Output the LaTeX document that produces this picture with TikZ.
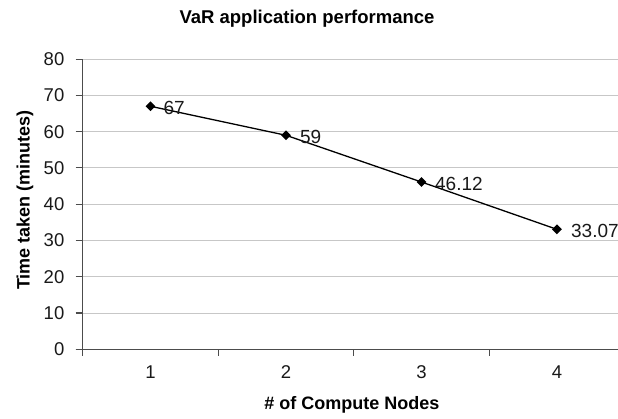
\documentclass[tikz,border=0pt]{standalone}
\usepackage{fontspec}
\setmainfont{Liberation Sans}
\usetikzlibrary{shapes.geometric}
\begin{document}
\begin{tikzpicture}[x=1pt,y=-1pt,
  grid/.style={draw=black!22,line width=1pt},
  axisline/.style={draw=black!70,line width=1.2pt},
  tickmark/.style={draw=black!70,line width=1.1pt},
  ticklab/.style={font=\fontsize{18.5}{21}\selectfont,text=black!90,inner sep=0pt},
  datalab/.style={font=\fontsize{19}{22}\selectfont,text=black!90,inner sep=0pt,anchor=west},
  marker/.style={diamond,fill=black,draw=none,inner sep=0pt,minimum width=10pt,minimum height=10pt},
  series/.style={draw=black,line width=1.3pt},
  axtitle/.style={font=\bfseries\fontsize{18}{21}\selectfont,inner sep=0pt},
]
\useasboundingbox (0,0) rectangle (618,418);
% y coordinates: v -> 349.3 - 3.6275 v
\foreach \v in {10,20,...,80}{
  \draw[grid] (82.7,{349.3-3.6275*\v}) -- (618,{349.3-3.6275*\v});
}
\foreach \v in {0,10,...,80}{
  \draw[tickmark] (75.5,{349.3-3.6275*\v}) -- (82.7,{349.3-3.6275*\v});
  \node[ticklab,anchor=east] (yl\v) at (64.5,{349.3-3.6275*\v}) {\v};
}
\foreach \i in {1,2,3,4}{
  \draw[tickmark] ({82.7+135.5*\i},349.3) -- ({82.7+135.5*\i},356);
  \node[ticklab] (xl\i) at ({82.7+135.5*(\i-0.5)},372) {\i};
}
\draw[axisline] (82.7,59.1) -- (82.7,356);
\draw[axisline] (75.5,349.3) -- (618,349.3);
% series
\node[marker] (m1) at (150.45,{349.3-3.6275*67}) {};
\node[marker] (m2) at (285.95,{349.3-3.6275*59}) {};
\node[marker] (m3) at (421.45,{349.3-3.6275*46.12}) {};
\node[marker] (m4) at (556.95,{349.3-3.6275*33.07}) {};
\draw[series] (m1.center) -- (m2.center) -- (m3.center) -- (m4.center);
\node[datalab] (d1) at ([xshift=13pt,yshift=-2pt]m1.center) {67};
\node[datalab] (d2) at ([xshift=14pt,yshift=-2pt]m2.center) {59};
\node[datalab] (d3) at ([xshift=13.5pt,yshift=-2pt]m3.center) {46.12};
\node[datalab] (d4) at ([xshift=14pt,yshift=-2pt]m4.center) {33.07};
% titles
\node[font=\bfseries\fontsize{18.5}{22}\selectfont,inner sep=0pt] (title) at (307,19) {VaR application performance};
\node[axtitle] (xt) at (352,405) {\# of Compute Nodes};
\node[axtitle,rotate=90] (yt) at (25,200) {Time taken (minutes)};
\end{tikzpicture}
\end{document}
